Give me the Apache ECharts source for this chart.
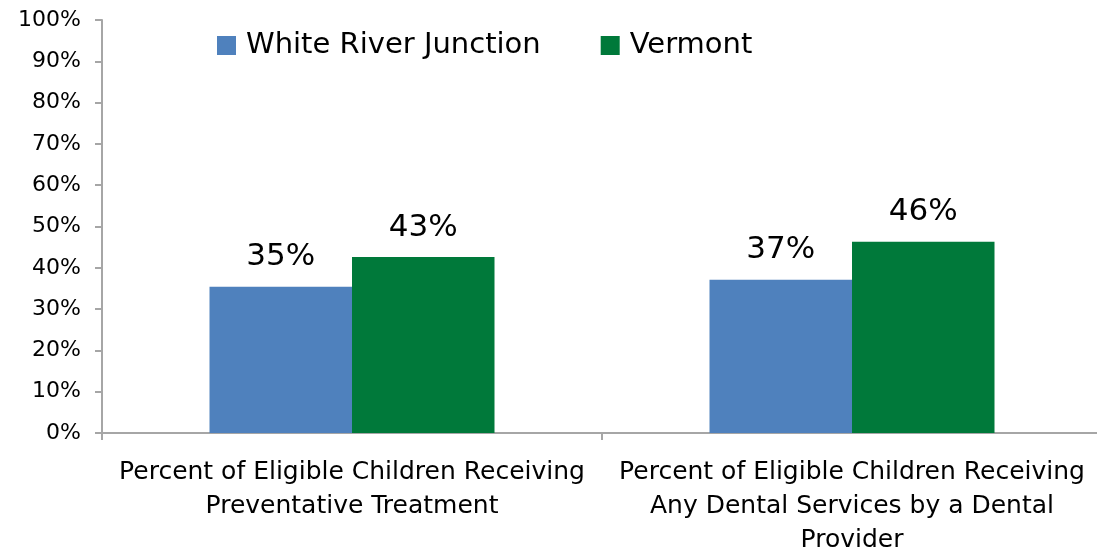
<!DOCTYPE html>
<html>
<head>
<meta charset="utf-8">
<script src="https://cdn.jsdelivr.net/npm/echarts@6/dist/echarts.min.js"></script>
<style>
  html, body { margin: 0; padding: 0; background: #fff; }
  #chart { width: 1097px; height: 551px; }
</style>
</head>
<body>
<div id="chart"></div>
<script>
var categories = [
    'Percent of Eligible Children Receiving\nPreventative Treatment',
    'Percent of Eligible Children Receiving\nAny Dental Services by a Dental\nProvider'
];
var seriesNames = ['White River Junction', 'Vermont'];
var wrjValues = [35.4, 37.1];
var vermontValues = [42.6, 46.3];
var colors = ['#4f81bd', '#00793a'];

var font = 'DejaVu Sans';

var chart = echarts.init(document.getElementById('chart'));

function barSeries(name, values, color) {
    return {
        name: name,
        type: 'bar',
        data: values,
        barGap: '0%',
        barCategoryGap: '43%',
        itemStyle: { color: color },
        label: {
            show: true,
            position: 'top',
            distance: 14,
            fontFamily: font,
            fontSize: 31,
            color: '#000',
            formatter: function (p) { return Math.round(p.value) + '%'; }
        }
    };
}

var option = {
    animation: false,
    legend: {
        data: seriesNames,
        top: 26,
        left: 212,
        itemWidth: 19,
        itemHeight: 19,
        itemGap: 60,
        icon: 'rect',
        textStyle: { fontFamily: font, fontSize: 29, color: '#000', padding: [0, 0, 0, 5] }
    },
    grid: { left: 102, right: -5, top: 20, bottom: 118, outerBoundsMode: 'none' },
    xAxis: {
        type: 'category',
        data: categories,
        axisLine: { lineStyle: { color: '#a6a6a6', width: 2 } },
        axisTick: { show: true, length: 7, lineStyle: { color: '#a6a6a6', width: 2 } },
        axisLabel: {
            interval: 0,
            margin: 22,
            fontFamily: font,
            fontSize: 25,
            lineHeight: 34,
            color: '#000'
        }
    },
    yAxis: {
        type: 'value',
        min: 0,
        max: 100,
        interval: 10,
        splitLine: { show: false },
        axisLine: { show: true, lineStyle: { color: '#a6a6a6', width: 2 } },
        axisTick: { show: true, length: 7, lineStyle: { color: '#a6a6a6', width: 2 } },
        axisLabel: {
            margin: 21,
            fontFamily: font,
            fontSize: 22,
            color: '#000',
            formatter: '{value}%'
        }
    },
    series: [
        barSeries(seriesNames[0], wrjValues, colors[0]),
        barSeries(seriesNames[1], vermontValues, colors[1])
    ]
};

chart.setOption(option);
</script>
</body>
</html>
